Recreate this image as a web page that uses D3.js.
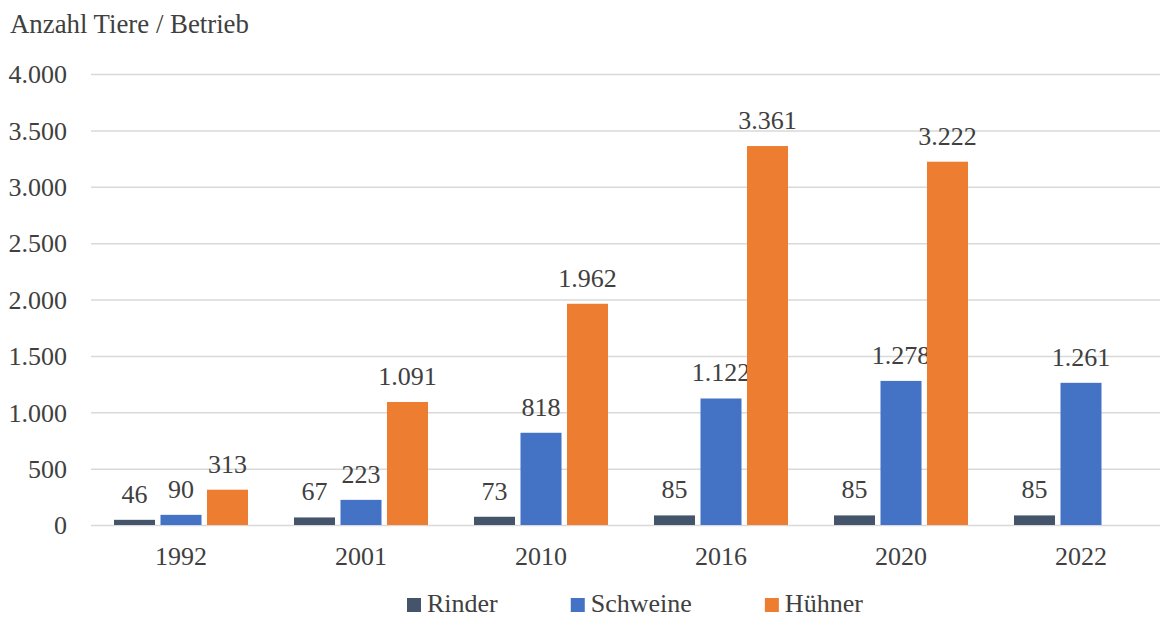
<!DOCTYPE html>
<html lang="de">
<head>
<meta charset="utf-8"/>
<title>Anzahl Tiere / Betrieb</title>
<script src="https://d3js.org/d3.v7.min.js"></script>
<style>
  body { margin: 0; background: #fff; }
  svg { display: block; font-family: "Liberation Serif", "Times New Roman", serif; }
  .axis text { font-size: 26px; fill: #404040; }
</style>
</head>
<body>
<svg id="chart"></svg>
<script>
  const years = ["1992", "2001", "2010", "2016", "2020", "2022"];
  const seriesNames = ["Rinder", "Schweine", "Hühner"];
  const rinder = [46, 67, 73, 85, 85, 85];
  const schweine = [90, 223, 818, 1122, 1278, 1261];
  const huehner = [313, 1091, 1962, 3361, 3222, null];
  const colors = ["#44546A", "#4472C4", "#ED7D31"];
  const yTicks = [0, 500, 1000, 1500, 2000, 2500, 3000, 3500, 4000];

  const width = 1160;
  const height = 619;
  const plot = {left: 91, right: 1171, top: 74, bottom: 525};
  const serif = "'Liberation Serif', 'Times New Roman', serif";

  const de = d3.formatLocale({decimal: ",", thousands: ".", grouping: [3], currency: ["", " €"]});
  const fmt = de.format(",d");

  const svg = d3.select("#chart")
    .attr("width", width)
    .attr("height", height);

  const x0 = d3.scaleBand()
    .domain(years)
    .range([plot.left, plot.right])
    .padding(0);

  const x1 = d3.scaleBand()
    .domain(seriesNames)
    .range([-67, 67])
    .paddingInner(0.118)
    .paddingOuter(0);

  const y = d3.scaleLinear()
    .domain([0, 4000])
    .range([plot.bottom, plot.top]);

  const color = d3.scaleOrdinal().domain(seriesNames).range(colors);

  // gridlines + y labels
  const yAxis = svg.append("g")
    .attr("class", "axis")
    .attr("transform", "translate(" + plot.left + ",0)")
    .call(d3.axisLeft(y)
      .tickValues(yTicks)
      .tickFormat(fmt)
      .tickSize(-(width - plot.left))
      .tickPadding(24))
    .attr("font-family", serif)
    .attr("font-size", 26);
  yAxis.select(".domain").remove();
  yAxis.selectAll(".tick line").attr("stroke", "#D9D9D9").attr("stroke-width", 1.5);
  yAxis.selectAll(".tick text").attr("dy", "0.34em");

  // x labels
  const xAxis = svg.append("g")
    .attr("class", "axis")
    .attr("transform", "translate(0," + plot.bottom + ")")
    .call(d3.axisBottom(x0).tickSize(0).tickPadding(22))
    .attr("font-family", serif)
    .attr("font-size", 26);
  xAxis.select(".domain").remove();

  svg.append("text")
    .attr("x", 10)
    .attr("y", 33)
    .attr("font-size", 26.8)
    .attr("fill", "#404040")
    .text("Anzahl Tiere / Betrieb");

  const rows = years.map((yr, i) => ({
    year: yr,
    values: [rinder[i], schweine[i], huehner[i]].map((v, k) => ({key: seriesNames[k], value: v}))
  }));

  const groups = svg.append("g")
    .selectAll("g")
    .data(rows)
    .join("g")
    .attr("transform", d => "translate(" + (x0(d.year) + x0.bandwidth() / 2) + ",0)");

  const items = groups.selectAll("g")
    .data(d => d.values.filter(v => v.value != null))
    .join("g");

  items.append("rect")
    .attr("x", d => x1(d.key))
    .attr("width", x1.bandwidth())
    .attr("y", d => y(d.value))
    .attr("height", d => y(0) - y(d.value))
    .attr("fill", d => color(d.key));

  items.append("text")
    .attr("x", d => x1(d.key) + x1.bandwidth() / 2)
    .attr("y", d => y(d.value) - 17)
    .attr("text-anchor", "middle")
    .attr("font-size", 26)
    .attr("fill", "#404040")
    .text(d => fmt(d.value));

  // legend
  const legend = svg.append("g").attr("transform", "translate(407,598)");
  let lx = 0;
  seriesNames.forEach((name, i) => {
    const item = legend.append("g").attr("transform", "translate(" + lx + ",0)");
    item.append("rect")
      .attr("width", 14)
      .attr("height", 14)
      .attr("fill", colors[i]);
    const t = item.append("text")
      .attr("x", 20)
      .attr("y", 14)
      .attr("font-size", 26)
      .attr("fill", "#404040")
      .text(name);
    lx += 20 + t.node().getComputedTextLength() + 73;
  });
</script>
</body>
</html>
